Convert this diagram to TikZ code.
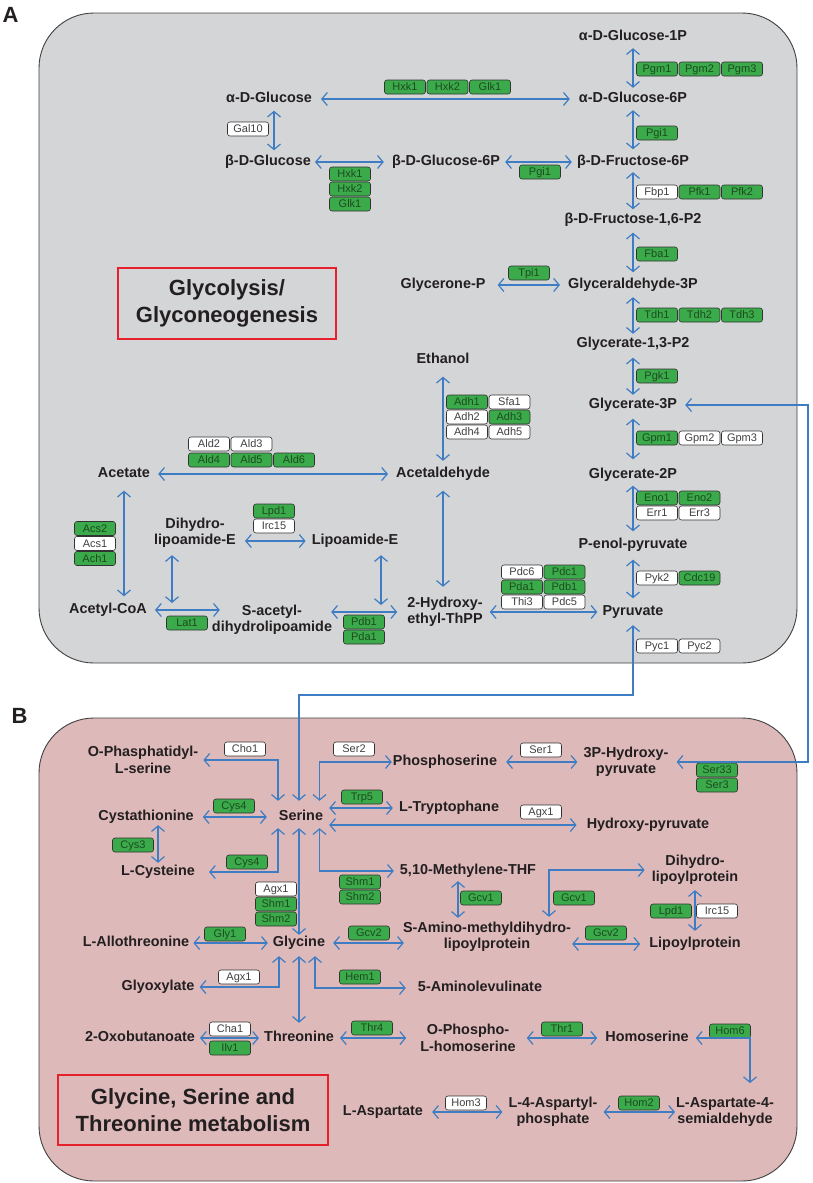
\documentclass[tikz,border=0pt]{standalone}
\usepackage{fontspec}
\setmainfont{Liberation Sans}
\usetikzlibrary{arrows.meta}
\definecolor{panelA}{RGB}{212,213,215}
\definecolor{panelB}{RGB}{222,185,186}
\definecolor{egreen}{RGB}{58,170,74}
\definecolor{etext}{RGB}{30,75,32}
\definecolor{arrblue}{RGB}{62,125,195}
\definecolor{mtext}{RGB}{35,31,32}
\definecolor{tred}{RGB}{230,32,45}
\tikzset{
  met/.style={font=\bfseries\fontsize{14.4}{16.5}\selectfont, text=mtext, inner sep=1pt, text height=10pt, text depth=3pt},
  met2/.style={font=\bfseries\fontsize{14.4}{16.5}\selectfont, text=mtext, inner sep=1pt, align=center},
  enz/.style={draw=black!80, line width=0.6pt, rounded corners=2.5pt, minimum width=41pt, minimum height=14pt, inner sep=0pt, text height=7.8pt, text depth=0pt, font=\fontsize{11}{11}\selectfont},
  eg/.style={enz, fill=egreen, text=etext},
  ew/.style={enz, fill=white, text=black!75},
  arr/.style={draw=arrblue, line width=1.2pt, <->, >={Straight Barb[length=5.5pt,width=13pt]}},
  sh/.style 2 args={shorten <=#1, shorten >=#2},
  panel/.style={draw=black!75, line width=0.9pt, rounded corners=55pt},
  title/.style={draw=tred, line width=2.4pt, font=\bfseries\fontsize{22}{27}\selectfont, text=mtext, align=center},
  plabel/.style={font=\bfseries\fontsize{22}{22}\selectfont, text=mtext, inner sep=0pt},
}
\begin{document}
\begin{tikzpicture}[x=1pt,y=-1pt]
\useasboundingbox (0,0) rectangle (812,1183);
\path[panel, fill=panelA] (39,13) rectangle (797,663);
\path[panel, fill=panelB] (39,718) rectangle (797,1181);
\node[plabel] (labA) at (10.5,14.5) {A};
\node[plabel] (labB) at (19.5,716) {B};

% ---------------- Panel A metabolites
\node[met] (g1p) at (633,37) {α-D-Glucose-1P};
\node[met] (g6p) at (633,99) {α-D-Glucose-6P};
\node[met] (aglc) at (269,99) {α-D-Glucose};
\node[met] (bglc) at (268,162) {β-D-Glucose};
\node[met] (bg6p) at (446,162) {β-D-Glucose-6P};
\node[met] (f6p) at (633,162) {β-D-Fructose-6P};
\node[met] (f16) at (633,220) {β-D-Fructose-1,6-P2};
\node[met] (dhap) at (443,285) {Glycerone-P};
\node[met] (gap) at (633,285) {Glyceraldehyde-3P};
\node[met] (bpg) at (633,344) {Glycerate-1,3-P2};
\node[met] (g3p) at (633,405) {Glycerate-3P};
\node[met] (g2p) at (633,475) {Glycerate-2P};
\node[met] (pep) at (633,545) {P-enol-pyruvate};
\node[met] (pyr) at (633,612) {Pyruvate};
\node[met] (etoh) at (443,360) {Ethanol};
\node[met] (acald) at (443,474) {Acetaldehyde};
\node[met2] (hetpp) at (445,612) {2-Hydroxy-\\ethyl-ThPP};
\node[met] (acet) at (124,474) {Acetate};
\node[met] (acoa) at (108,610) {Acetyl-CoA};
\node[met2] (dlip) at (195,533) {Dihydro-\\lipoamide-E};
\node[met] (lipe) at (355,541) {Lipoamide-E};
\node[met2] (sacet) at (272,620) {S-acetyl-\\dihydrolipoamide};
\node[title, minimum width=218pt, minimum height=71pt] (t1) at (227,303.5) {Glycolysis/\\Glyconeogenesis};

% ---------------- Panel A enzymes
\node[eg] (a1) at (405,87) {Hxk1};
\node[eg] (a2) at (447.5,87) {Hxk2};
\node[eg] (a3) at (490,87) {Glk1};
\node[ew] (a4) at (248,129) {Gal10};
\node[eg] (a5) at (350,174) {Hxk1};
\node[eg] (a6) at (350,189) {Hxk2};
\node[eg] (a7) at (350,204) {Glk1};
\node[eg] (a8) at (540,172) {Pgi1};
\node[eg] (a9) at (657,69) {Pgm1};
\node[eg] (a10) at (699.5,69) {Pgm2};
\node[eg] (a11) at (742,69) {Pgm3};
\node[eg] (a12) at (657,133) {Pgi1};
\node[ew] (a13) at (657,192) {Fbp1};
\node[eg] (a14) at (699.5,192) {Pfk1};
\node[eg] (a15) at (742,192) {Pfk2};
\node[eg] (a16) at (657,254) {Fba1};
\node[eg] (a17) at (529,273) {Tpi1};
\node[eg] (a18) at (657,315) {Tdh1};
\node[eg] (a19) at (699.5,315) {Tdh2};
\node[eg] (a20) at (742,315) {Tdh3};
\node[eg] (a21) at (657,376) {Pgk1};
\node[eg] (a22) at (657,438) {Gpm1};
\node[ew] (a23) at (699.5,438) {Gpm2};
\node[ew] (a24) at (742,438) {Gpm3};
\node[eg] (a25) at (657,498) {Eno1};
\node[eg] (a26) at (699.5,498) {Eno2};
\node[ew] (a27) at (657,513) {Err1};
\node[ew] (a28) at (699.5,513) {Err3};
\node[ew] (a29) at (657,578) {Pyk2};
\node[eg] (a30) at (699.5,578) {Cdc19};
\node[ew] (a31) at (657,646) {Pyc1};
\node[ew] (a32) at (699.5,646) {Pyc2};
\node[eg] (a33) at (467,402) {Adh1};
\node[ew] (a34) at (509.5,402) {Sfa1};
\node[ew] (a35) at (467,417) {Adh2};
\node[eg] (a36) at (509.5,417) {Adh3};
\node[ew] (a37) at (467,432) {Adh4};
\node[ew] (a38) at (509.5,432) {Adh5};
\node[ew] (a39) at (522,572) {Pdc6};
\node[eg] (a40) at (564.5,572) {Pdc1};
\node[eg] (a41) at (522,587) {Pda1};
\node[eg] (a42) at (564.5,587) {Pdb1};
\node[ew] (a43) at (522,602) {Thi3};
\node[ew] (a44) at (564.5,602) {Pdc5};
\node[ew] (a45) at (209,444) {Ald2};
\node[ew] (a46) at (251.5,444) {Ald3};
\node[eg] (a47) at (209,460) {Ald4};
\node[eg] (a48) at (251.5,460) {Ald5};
\node[eg] (a49) at (294,460) {Ald6};
\node[eg] (a50) at (95,528.5) {Acs2};
\node[ew] (a51) at (95,543.5) {Acs1};
\node[eg] (a52) at (95,558.5) {Ach1};
\node[eg] (a53) at (187,623) {Lat1};
\node[eg] (a54) at (274,511) {Lpd1};
\node[ew] (a55) at (274,526) {Irc15};
\node[eg] (a56) at (364,622) {Pdb1};
\node[eg] (a57) at (364,637) {Pda1};

% ---------------- Panel A connectors
\coordinate (jl) at (172,603);
\coordinate (jn) at (381,605);
\coordinate (bend) at (299,695);
\coordinate (rbend) at (808,762);
\draw[arr, sh={8pt}{8pt}] (aglc) -- (g6p);
\draw[arr, sh={4pt}{4pt}] ([xshift=5pt]aglc.south) -- ([xshift=6pt]bglc.north);
\draw[arr, sh={3pt}{7pt}] (bglc) -- (bg6p);
\draw[arr, sh={4pt}{4pt}] (bg6p) -- (f6p);
\draw[arr, sh={3.5pt}{3.5pt}] (g1p) -- (g6p);
\draw[arr, sh={3.5pt}{5pt}] (g6p) -- (f6p);
\draw[arr, sh={2.5pt}{3pt}] (f6p) -- (f16);
\draw[arr, sh={5pt}{5pt}] (f16) -- (gap);
\draw[arr, sh={11pt}{7pt}] (dhap) -- (gap);
\draw[arr, sh={4.5pt}{2.5pt}] (gap) -- (bpg);
\draw[arr, sh={6pt}{2.5pt}] (bpg) -- (g3p);
\draw[arr, sh={6pt}{8pt}] (g3p) -- (g2p);
\draw[arr, sh={3pt}{6pt}] (g2p) -- (pep);
\draw[arr, sh={7pt}{6pt}] (pep) -- (pyr);
\draw[arr, sh={9pt}{5.5pt}] (etoh) -- (acald);
\draw[arr, sh={9pt}{9pt}] (acald) -- (acald |- hetpp.north);
\draw[arr, sh={6pt}{4pt}] (hetpp) -- (pyr);
\draw[arr, sh={7pt}{7pt}] (acet) -- (acald);
\draw[arr, sh={9pt}{6pt}] (acet.south) -- (acet.south |- acoa.north);
\draw[arr, sh={7pt}{-9pt}] (acoa) -- (acoa -| sacet.west);
\draw[arr, sh={6pt}{0pt}] (dlip.south -| jl) -- (jl);
\draw[arr, sh={8pt}{5pt}] (dlip.east |- lipe) -- (lipe);
\draw[arr, sh={6.5pt}{0pt}] (lipe.south -| jn) -- (jn);
\draw[arr, sh={-2pt}{9pt}] (sacet.east |- hetpp) -- (hetpp);

% ---------------- Panel B metabolites
\node[met2] (ops) at (143,760) {O-Phasphatidyl-\\L-serine};
\node[met] (ser) at (301,817) {Serine};
\node[met] (pser) at (445,762) {Phosphoserine};
\node[met2] (hp3) at (626,762) {3P-Hydroxy-\\pyruvate};
\node[met] (trp) at (449,808) {L-Tryptophane};
\node[met] (hpyr) at (648,825) {Hydroxy-pyruvate};
\node[met] (cyst) at (146,817) {Cystathionine};
\node[met] (lcys) at (158,872) {L-Cysteine};
\node[met] (mthf) at (468,871) {5,10-Methylene-THF};
\node[met2] (dlp) at (695,870) {Dihydro-\\lipoylprotein};
\node[met2] (sam) at (487,937) {S-Amino-methyldihydro-\\lipoylprotein};
\node[met] (lp) at (695,944) {Lipoylprotein};
\node[met] (allo) at (136,943) {L-Allothreonine};
\node[met] (gly) at (299,943) {Glycine};
\node[met] (glx) at (158,987) {Glyoxylate};
\node[met] (ala) at (480,988) {5-Aminolevulinate};
\node[met] (oxb) at (140,1038) {2-Oxobutanoate};
\node[met] (thr) at (299,1038) {Threonine};
\node[met2] (phs) at (468,1038) {O-Phospho-\\L-homoserine};
\node[met] (hser) at (647,1038) {Homoserine};
\node[met] (asp) at (383,1112) {L-Aspartate};
\node[met2] (asph) at (553,1112) {L-4-Aspartyl-\\phosphate};
\node[met2] (asa) at (725,1112) {L-Aspartate-4-\\semialdehyde};
\node[title, minimum width=270pt, minimum height=70pt] (t2) at (193,1110) {Glycine, Serine and\\Threonine metabolism};

% ---------------- Panel B enzymes
\node[ew] (b1) at (245,749) {Cho1};
\node[ew] (b2) at (354,749) {Ser2};
\node[ew] (b3) at (541,750) {Ser1};
\node[eg] (b4) at (717,770) {Ser33};
\node[eg] (b5) at (717,785) {Ser3};
\node[eg] (b6) at (362,797) {Trp5};
\node[ew] (b7) at (541,812) {Agx1};
\node[eg] (b8) at (234,806) {Cys4};
\node[eg] (b9) at (133,845) {Cys3};
\node[eg] (b10) at (247,862) {Cys4};
\node[ew] (b11) at (276,889) {Agx1};
\node[eg] (b12) at (276,904) {Shm1};
\node[eg] (b13) at (276,919) {Shm2};
\node[eg] (b14) at (360,882) {Shm1};
\node[eg] (b15) at (360,897) {Shm2};
\node[eg] (b16) at (481,898) {Gcv1};
\node[eg] (b17) at (574,898) {Gcv1};
\node[eg] (b18) at (671,911) {Lpd1};
\node[ew] (b19) at (717,911) {Irc15};
\node[eg] (b20) at (606,933) {Gcv2};
\node[eg] (b21) at (225,934) {Gly1};
\node[eg] (b22) at (369,933) {Gcv2};
\node[ew] (b23) at (239,977) {Agx1};
\node[eg] (b24) at (360,977) {Hem1};
\node[ew] (b25) at (230,1029) {Cha1};
\node[eg] (b26) at (230,1048) {Ilv1};
\node[eg] (b27) at (372,1028) {Thr4};
\node[eg] (b28) at (562,1029) {Thr1};
\node[eg] (b29) at (730,1031) {Hom6};
\node[ew] (b30) at (466,1103) {Hom3};
\node[eg] (b31) at (639,1103) {Hom2};

% ---------------- Panel B connectors
\draw[arr, sh={7pt}{7pt}] (g3p) -| (rbend) -- (hp3);
\draw[arr, sh={5.5pt}{8.5pt}] (pyr) |- (bend) -- ([xshift=-2pt]ser.north);
\draw[arr, sh={4pt}{8.5pt}] (ops) -| ([xshift=-23pt]ser.north);
\draw[arr, sh={8.5pt}{0pt}] ([xshift=18.5pt]ser.north) |- (pser);
\draw[arr, sh={8pt}{5pt}] (pser) -- (hp3);
\draw[arr, sh={5pt}{5pt}] (ser.east |- trp) -- (trp);
\draw[arr, sh={5pt}{9pt}] (ser.east |- hpyr) -- (hpyr);
\draw[arr, sh={8pt}{11pt}] (cyst) -- (ser);
\draw[arr, sh={0.5pt}{1.5pt}] (lcys |- cyst.south) -- (lcys);
\draw[arr, sh={13pt}{3.5pt}] (lcys) -| ([xshift=-23pt]ser.south);
\draw[arr, sh={3.5pt}{0.5pt}] ([xshift=-2pt]ser.south) -- ([xshift=-2pt]ser.south |- gly.north);
\draw[arr, sh={3.5pt}{5pt}] ([xshift=18.5pt]ser.south) |- (mthf);
\draw[arr, sh={2.5pt}{3pt}] ([xshift=-10pt]mthf.south) -- ([xshift=-10pt]mthf.south |- sam.north);
\draw[arr, sh={6pt}{4pt}] (dlp) -| ([xshift=62pt]sam.north);
\draw[arr, sh={4pt}{5.5pt}] (dlp) -- (lp);
\draw[arr, sh={0pt}{8pt}] (sam.east |- lp) -- (lp);
\draw[arr, sh={3pt}{4pt}] (allo) -- (gly);
\draw[arr, sh={7pt}{-2pt}] (gly) -- (gly -| sam.west);
\draw[arr, sh={4pt}{5.5pt}] (glx) -| ([xshift=-20pt]gly.south);
\draw[arr, sh={5.5pt}{11pt}] ([xshift=16pt]gly.south) |- (ala);
\draw[arr, sh={5.5pt}{7.5pt}] (gly) -- (thr);
\draw[arr, sh={4pt}{4pt}] (oxb) -- (thr);
\draw[arr, sh={5pt}{13pt}] (thr) -- (phs);
\draw[arr, sh={10pt}{7pt}] (phs) -- (hser);
\draw[arr, sh={6pt}{13pt}] (hser) -| ([xshift=25pt]asa.north);
\draw[arr, sh={8pt}{5pt}] (asp) -- (asph);
\draw[arr, sh={5pt}{0pt}] (asph) -- (asa);
\end{tikzpicture}
\end{document}
